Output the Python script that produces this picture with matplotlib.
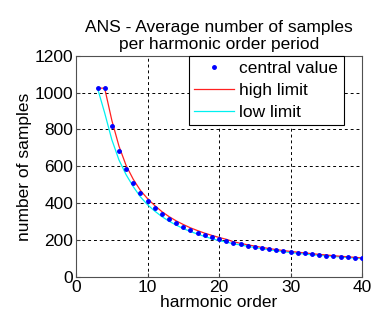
import matplotlib
matplotlib.use("Agg")
import matplotlib.pyplot as plt

# central value: average samples per harmonic period
orders = list(range(3, 41))
central = [1024, 1024, 819, 683, 585, 512, 455, 410, 372, 341,
           315, 293, 273, 256, 241, 228, 216, 205, 195, 186,
           178, 171, 164, 158, 152, 146, 141, 137, 132, 128,
           124, 120, 117, 114, 111, 108, 105, 102]

high = [1024, 1024, 850, 710, 605, 530, 470, 425, 388, 355,
        328, 305, 285, 267, 252, 238, 226, 215, 205, 192,
        183, 175, 168, 161, 155, 149, 144, 139, 135, 131,
        127, 123, 120, 116, 113, 110, 107, 104]

low = [1024, 890, 745, 635, 555, 490, 435, 392, 358, 328,
       303, 282, 263, 247, 233, 220, 208, 198, 190, 181,
       174, 167, 160, 154, 148, 143, 138, 133, 129, 125,
       121, 118, 115, 112, 109, 106, 103, 100]

plt.rcParams["font.family"] = ["Liberation Sans", "DejaVu Sans"]
plt.rcParams["font.size"] = 12.5

fig = plt.figure(figsize=(3.71, 3.20), dpi=100)
ax = fig.add_axes([0.205, 0.134, 0.771, 0.692])

ax.plot(orders, central, "b.", markersize=5, label="central value", zorder=4)
ax.plot(orders, high, color="#ff2020", lw=0.9, label="high limit", zorder=3)
ax.plot(orders, low, color="#00f0f0", lw=0.9, label="low limit", zorder=2)

ax.set_xlim(0, 40)
ax.set_ylim(0, 1200)
ax.set_xticks([0, 10, 20, 30, 40])
ax.set_yticks(range(0, 1201, 200))
ax.tick_params(direction="in", length=3, pad=2, color="#404040")
ax.grid(True, color="black", linestyle=(0, (3, 3)), linewidth=0.7)
for s in ax.spines.values():
    s.set_color("#505050")

ax.set_xlabel("harmonic order", labelpad=0)
ax.set_ylabel("number of samples", labelpad=2)
ax.set_title("ANS - Average number of samples\nper harmonic order period",
             fontsize=12.5, pad=5, linespacing=1.15)

leg = ax.legend(loc="upper right", bbox_to_anchor=(0.935, 1.0), frameon=True,
                fancybox=False, framealpha=1, edgecolor="black",
                borderpad=0.3, labelspacing=0.4, handlelength=2.3,
                handletextpad=0.3, borderaxespad=0)
leg.get_frame().set_linewidth(0.8)

fig.savefig("out.png", dpi=100)
